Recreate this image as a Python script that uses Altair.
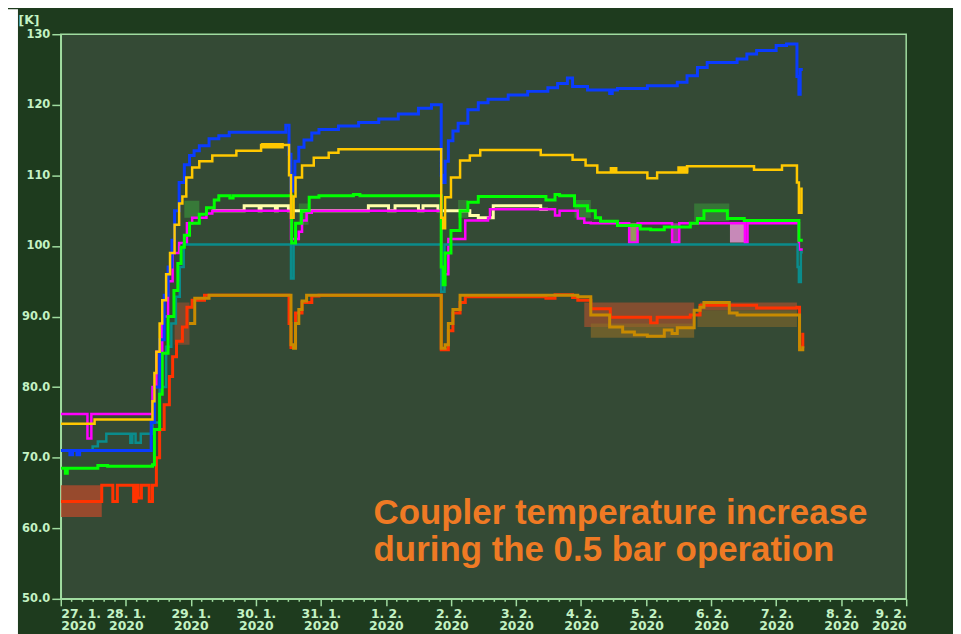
import json
import altair as alt
import pandas as pd

# ---------------- data (days since 27.1.2020 00:00, temperature in K) ----------------
X_LABELS = ["27. 1.", "28. 1.", "29. 1.", "30. 1.", "31. 1.", "1. 2.", "2. 2.",
            "3. 2.", "4. 2.", "5. 2.", "6. 2.", "7. 2.", "8. 2.", "9. 2."]
YEAR_LABEL = "2020"
X_TICKS = list(range(14))
MINOR_TICKS = [q / 6 for q in range(0, 79) if q % 6]
Y_TICKS = [50, 60, 70, 80, 90, 100, 110, 120, 130]

BLUE = [(0, 71), (0.14, 70.4), (0.18, 71), (0.25, 70.4), (0.29, 71),
        (1.39, 75), (1.44, 80), (1.52, 86.7), (1.59, 93), (1.65, 97), (1.71, 100.8),
        (1.75, 105), (1.82, 109), (1.90, 111.5), (1.98, 112.8), (2.05, 113.5),
        (2.13, 114.2), (2.28, 115.2), (2.43, 115.6), (2.59, 116.1), (3.46, 117.1),
        (3.51, 113), (3.54, 107.8), (3.57, 110), (3.60, 112), (3.66, 114), (3.74, 115),
        (3.86, 116), (3.97, 116.5), (4.27, 117), (4.58, 117.5), (4.89, 118), (5.19, 118.7),
        (5.50, 119.5), (5.70, 120), (5.85, 110), (5.88, 109), (5.91, 112), (5.96, 114.9),
        (6.03, 116.3), (6.11, 117.4), (6.26, 119.3), (6.42, 120.3), (6.57, 120.8),
        (6.88, 121.4), (7.18, 121.9), (7.49, 122.4), (7.64, 123), (7.79, 123.8),
        (7.87, 122.6), (8.10, 122.1), (8.44, 121.6), (8.48, 122.1), (8.56, 122.3),
        (9.02, 122.7), (9.48, 123.2), (9.63, 124.1), (9.79, 125.3), (9.94, 126),
        (10.40, 126.5), (10.55, 127.2), (10.70, 127.7), (11.00, 128.4), (11.16, 128.6),
        (11.32, 124), (11.35, 121.5), (11.37, 125), (11.41, 125)]

YELLOW = [(0, 74.8), (0.52, 75.4), (1.41, 78), (1.44, 82), (1.47, 85), (1.52, 89),
          (1.56, 92.3), (1.62, 96), (1.68, 99), (1.75, 103), (1.82, 106), (1.87, 107),
          (1.93, 109.7), (2.02, 111.1), (2.13, 112), (2.33, 112.8), (2.70, 113.5),
          (3.08, 114.3), (3.51, 110), (3.54, 104), (3.58, 107), (3.61, 109.7),
          (3.71, 111.4), (3.89, 112.5), (4.12, 113.2), (4.27, 113.7), (5.80, 113.7),
          (5.85, 104), (5.88, 102.5), (5.91, 106.9), (6.00, 109.7), (6.14, 112.1),
          (6.29, 112.8), (6.45, 113.6), (7.38, 112.9), (7.87, 112.2), (8.07, 111.4),
          (8.25, 110.4), (9.02, 109.6), (9.17, 110.4), (9.63, 111.3), (10.66, 110.8),
          (11.09, 111.4), (11.32, 109), (11.35, 104.7), (11.39, 108.1), (11.41, 108.1)]

GREEN = [(0, 68.5), (0.07, 67.8), (0.10, 68.5), (0.57, 68.9), (0.72, 68.8), (1.41, 69),
         (1.44, 74), (1.52, 79), (1.56, 84.8), (1.65, 90), (1.74, 93.7), (1.80, 97.5),
         (1.85, 99.8), (1.90, 101.5), (1.98, 103.2), (2.13, 104.5), (2.24, 105.4),
         (2.36, 106.5), (2.43, 107.1), (2.60, 106.8), (2.65, 107.1), (3.51, 107.1),
         (3.55, 100.4), (3.61, 103.2), (3.70, 105), (3.82, 106.9), (3.97, 107.1),
         (4.50, 107.3), (4.60, 107.1), (5.83, 107.1), (5.85, 97), (5.88, 94.5),
         (5.91, 99), (6.00, 102.2), (6.14, 105), (6.26, 106.2), (6.42, 107),
         (7.46, 106.5), (7.60, 107.3), (7.67, 107.1), (7.90, 105.7), (8.10, 105),
         (8.22, 104), (8.30, 103.5), (8.56, 102.9), (8.91, 102.4), (9.07, 102.3),
         (9.28, 102.7), (9.68, 103.2), (9.79, 103.9), (9.89, 105), (10.25, 103.9),
         (10.51, 103.6), (11.32, 103.6), (11.35, 100.8), (11.41, 100.8)]

MAGENTA = [(0, 76.2), (0.41, 72.7), (0.47, 76.2), (1.41, 80), (1.47, 85), (1.56, 90),
           (1.65, 95), (1.72, 99), (1.82, 100.4), (1.94, 103.2), (2.02, 104),
           (2.24, 104.6), (2.33, 105), (3.51, 105), (3.54, 101), (3.66, 102),
           (3.71, 103.6), (3.78, 104.7), (3.86, 105), (5.83, 105), (5.85, 96),
           (5.96, 101), (6.22, 103.6), (6.57, 104), (6.60, 105.2), (7.49, 105.2),
           (7.60, 104.3), (7.67, 105), (7.84, 105), (7.95, 103.9), (8.05, 103.3),
           (8.15, 103.2), (8.74, 100.5), (8.87, 103.2), (9.40, 100.5), (9.51, 103.2),
           (10.52, 100.5), (10.56, 103.2), (11.32, 103.2), (11.35, 99.5), (11.41, 99.5)]

PALE = [(2.33, 105), (2.82, 105.7), (3.05, 105), (3.08, 105.7), (3.30, 105),
        (3.33, 105.7), (3.50, 105), (4.73, 105.7), (5.04, 105), (5.14, 105.7),
        (5.50, 105), (5.57, 105.7), (5.80, 105), (6.29, 104.3), (6.42, 104),
        (6.65, 105.7), (7.38, 105.2), (7.49, 105.2)]

TEAL = [(0, 71), (0.49, 71.6), (0.57, 72.3), (0.70, 73.4), (1.07, 72.1), (1.10, 73.4),
        (1.15, 72.1), (1.23, 73.4), (1.41, 75), (1.52, 80), (1.62, 85.7), (1.70, 89),
        (1.77, 92.8), (1.83, 97), (1.89, 100.2), (3.54, 95.4), (3.58, 100.2),
        (5.85, 93.5), (5.90, 100.2), (11.33, 97), (11.35, 94.9), (11.38, 99.1),
        (11.41, 99.1)]

RED = [(0, 63.8), (0.63, 66.1), (0.80, 63.8), (0.87, 66.1), (1.12, 63.8), (1.16, 66.1),
       (1.19, 64.3), (1.24, 66.1), (1.36, 63.8), (1.41, 66.1), (1.47, 70), (1.52, 74),
       (1.59, 77.5), (1.67, 81.5), (1.72, 84.3), (1.78, 86.5), (1.87, 88.5),
       (1.94, 91.3), (2.02, 92.3), (2.21, 93), (3.51, 89), (3.54, 85.6), (3.61, 90.5),
       (3.71, 92), (3.86, 92.9), (3.97, 93), (5.83, 93), (5.85, 85.3), (5.96, 88),
       (6.03, 90.5), (6.14, 92), (6.22, 92.8), (7.46, 92.6), (7.60, 93.1), (7.87, 92.7),
       (7.95, 92.3), (8.15, 91.1), (8.45, 89.9), (9.07, 89.1), (9.17, 89.9), (9.68, 90.2),
       (9.83, 91.6), (10.25, 91.6), (10.70, 91.2), (11.32, 91.3), (11.36, 85.7),
       (11.41, 87.7)]

OCHRE = [(1.97, 89), (2.06, 92.6), (2.28, 93), (3.51, 93),
         (3.54, 86), (3.58, 85.5), (3.61, 89), (3.66, 91), (3.71, 92.2), (3.78, 93),
         (5.85, 85.5), (5.91, 86), (5.96, 89), (6.03, 91), (6.14, 93), (7.87, 93),
         (7.95, 92.8), (8.15, 90.2), (8.44, 88.5), (8.64, 87.8), (8.82, 87.4),
         (9.02, 87.2), (9.28, 88.1), (9.40, 87.6), (9.48, 88.4), (9.74, 90.9),
         (9.83, 91.3), (9.89, 92), (10.28, 90.5), (10.40, 90.2), (11.32, 90.2),
         (11.36, 85.3), (11.41, 85.8)]

# shaded envelopes / blocks: (start day, end day, low K, high K, colour, opacity)
BLOCKS = [(0, 0.63, 61.6, 66.1, "#b04a2c", 0.8),
          (1.75, 1.98, 86.0, 92.0, "#b05030", 0.5),
          (8.05, 9.74, 88.5, 92.0, "#a4502f", 0.7),
          (8.15, 9.74, 87.0, 89.0, "#8a6a28", 0.65),
          (9.79, 11.32, 88.5, 90.9, "#8a6a28", 0.55),
          (9.83, 11.32, 90.9, 92.0, "#a4502f", 0.7),
          (1.90, 2.13, 104.0, 106.4, "#3cb43c", 0.45),
          (3.66, 3.81, 103.0, 106.0, "#3cb43c", 0.4),
          (6.11, 6.26, 104.0, 106.5, "#3cb43c", 0.4),
          (7.90, 8.15, 104.0, 106.5, "#3cb43c", 0.45),
          (9.74, 10.28, 103.5, 106.0, "#3cb43c", 0.4),
          (8.74, 8.87, 100.5, 103.2, "#a0a060", 0.9),
          (9.40, 9.51, 100.5, 103.2, "#a03ca0", 0.9),
          (10.29, 10.52, 100.5, 103.2, "#d08cc0", 0.95),
          (3.08, 3.43, 113.8, 114.6, "#ffc800", 1.0),
          (8.44, 8.56, 110.4, 111.2, "#ffc800", 1.0),
          (9.48, 9.65, 110.4, 111.3, "#ffc800", 1.0)]

ANNOTATION = [(4.81, 60.58, "Coupler temperature increase"),
              (4.81, 55.36, "during the 0.5 bar operation")]

# ---------------- styling ----------------
AXIS_LINE = "#a0dca0"
AXIS_TEXT = "#c4f2c4"
FONT = "DejaVu Sans"

x_label_expr = f"[{json.dumps(X_LABELS)}[round(datum.value)], '{YEAR_LABEL}']"
y_label_expr = "datum.value >= 100 ? format(datum.value, 'd') : format(datum.value, '.1f')"

x_scale = alt.Scale(domain=[0, 13], nice=False, zero=False)
y_scale = alt.Scale(domain=[50, 130], nice=False, zero=False)
x_axis = alt.Axis(values=X_TICKS, labelExpr=x_label_expr, title=None, tickSize=7,
                  labelPadding=2, labelFontSize=12.5, labelLineHeight=12,
                  labelFontWeight="bold", labelFont=FONT, labelColor=AXIS_TEXT,
                  domainColor=AXIS_LINE, tickColor=AXIS_LINE, domainWidth=1.5,
                  tickWidth=1.5, grid=False, labelOverlap=False)
y_axis = alt.Axis(values=Y_TICKS, labelExpr=y_label_expr, title="[K]", titleAngle=0,
                  titleX=-43, titleY=-21, titleAlign="left", titleBaseline="top",
                  titleFontSize=12.5, titleFont=FONT, titleFontWeight="bold",
                  titleColor=AXIS_TEXT, tickSize=9, labelPadding=2, labelFontSize=11.5,
                  labelFontWeight="bold", labelFont=FONT, labelColor=AXIS_TEXT,
                  domainColor=AXIS_LINE, tickColor=AXIS_LINE, domainWidth=1.5,
                  tickWidth=1.5, grid=False)


def X(field):
    return alt.X(f"{field}:Q", scale=x_scale, axis=x_axis)


def Y(field):
    return alt.Y(f"{field}:Q", scale=y_scale, axis=y_axis)


def line_layer(points, color, width):
    df = pd.DataFrame(points, columns=["day", "value"])
    return alt.Chart(df).mark_line(interpolate="step-after", color=color,
                                   strokeWidth=width, clip=True).encode(
        x=X("day"), y=Y("value"))


blocks_df = pd.DataFrame(BLOCKS, columns=["d0", "d1", "lo", "hi", "color", "op"])
blocks = alt.Chart(blocks_df).mark_rect(clip=True).encode(
    x=X("d0"), x2="d1", y=Y("lo"), y2="hi",
    color=alt.Color("color:N", scale=None),
    opacity=alt.Opacity("op:Q", scale=None))

ann_df = pd.DataFrame(ANNOTATION, columns=["day", "value", "text"])
annotation = alt.Chart(ann_df).mark_text(
    align="left", baseline="alphabetic", font="Liberation Sans", fontWeight="bold",
    fontSize=35, color="#ef7a24").encode(x=X("day"), y=Y("value"), text="text:N")

minor_df = pd.DataFrame({"day": MINOR_TICKS})
minor = alt.Chart(minor_df).mark_rule(color=AXIS_LINE, strokeWidth=1.5).encode(
    x=X("day"), y=alt.value(567), y2=alt.value(570))

strip = alt.Chart(pd.DataFrame({"a": [0]})).mark_rect(color="white").encode(
    x=alt.value(-53), x2=alt.value(-43), y=alt.value(-25), y2=alt.value(620))

chart = alt.layer(
    blocks,
    line_layer(RED, "#ff3300", 3),
    line_layer(OCHRE, "#c88a00", 3),
    line_layer(PALE, "#ffffa8", 3),
    line_layer(MAGENTA, "#ff00ff", 2.5),
    line_layer(TEAL, "#0a8c8c", 2.5),
    line_layer(GREEN, "#00ff00", 3),
    line_layer(BLUE, "#0a3cff", 3),
    line_layer(YELLOW, "#ffc800", 2.5),
    minor,
    annotation,
    strip,
).properties(
    width=849, height=567,
    padding={"left": 53, "top": 25, "right": 47, "bottom": 34},
    autosize=alt.AutoSizeParams(type="none"),
    background="#1e3b1e",
).configure_view(fill="#344a35", stroke=AXIS_LINE, strokeWidth=1.5)

chart.save("out.html", embed_options={"renderer": "svg", "actions": False})
